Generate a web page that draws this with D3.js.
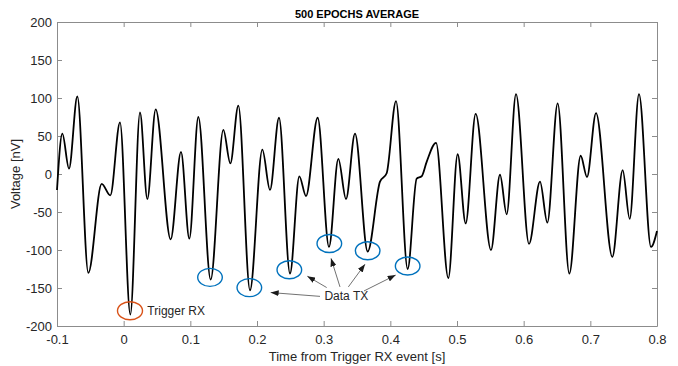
<!DOCTYPE html>
<html>
<head>
<meta charset="utf-8">
<script src="https://cdn.jsdelivr.net/npm/d3@7"></script>
<style>
  html, body { margin: 0; padding: 0; background: #fff; }
  svg { display: block; font-family: "Liberation Sans", Arial, sans-serif; }
</style>
</head>
<body>
<div id="chart"></div>
<script>
// waveform (local extrema + a few shoulder points)
const times = [-0.1, -0.092, -0.082, -0.0695, -0.053, -0.033, -0.020, -0.0055, 0.010, 0.0245,
  0.0355, 0.048, 0.0705, 0.086, 0.0985, 0.112, 0.1305, 0.1495, 0.160, 0.172,
  0.1895, 0.208, 0.2195, 0.233, 0.2495, 0.2635, 0.2735, 0.291, 0.308, 0.322,
  0.3335, 0.347, 0.366, 0.3845, 0.3945, 0.4085, 0.426, 0.4395, 0.447, 0.4545,
  0.4685, 0.487, 0.501, 0.513, 0.528, 0.551, 0.5645, 0.5745, 0.5885, 0.608,
  0.6245, 0.6355, 0.651, 0.6685, 0.6855, 0.695, 0.7085, 0.733, 0.7485, 0.759,
  0.773, 0.791, 0.8];
const voltage = [-21, 53, 7, 102, -130, -13, -28, 68, -185, 81,
  -33, 85, -86, 29, -85, 75, -139, 58, 14, 90,
  -153, 32, -21, 74, -131, -3, -29, 74, -96, 20,
  -33, 53, -102, -10, 1, 96, -125, -6, -3, 16,
  41, -137, 26, -65, 79, -100, -1, -53, 105, -92,
  -10, -64, 93, -131, 24, -4, 80, -109, 5, -59,
  105, -96, -75];

const xTicks = [-0.1, 0, 0.1, 0.2, 0.3, 0.4, 0.5, 0.6, 0.7, 0.8];
const yTicks = [-200, -150, -100, -50, 0, 50, 100, 150, 200];

// annotations (data units)
const triggerMark = { t: 0.0095, v: -180 };
const triggerLabel = { t: 0.0355, v: -180, text: 'Trigger RX' };
const txMarks = [
  { t: 0.1295, v: -136 },
  { t: 0.1885, v: -149.5 },
  { t: 0.2485, v: -126 },
  { t: 0.3085, v: -91.5 },
  { t: 0.366, v: -101 },
  { t: 0.426, v: -121 }
];
const txLabel = { t: 0.334, v: -160.5, text: 'Data TX' };
const txArrows = [
  { t0: 0.2945, v0: -161, t1: 0.2205, v1: -156 },
  { t0: 0.3045, v0: -149.4, t1: 0.2755, v1: -134.5 },
  { t0: 0.3245, v0: -148.6, t1: 0.311, v1: -111 },
  { t0: 0.337, v0: -148.6, t1: 0.362, v1: -118.7 },
  { t0: 0.3605, v0: -153.9, t1: 0.408, v1: -133 }
];

const W = 678, H = 366;
const margin = { top: 22, right: 21, bottom: 40, left: 57 };
const width = W - margin.left - margin.right;
const height = H - margin.top - margin.bottom;

const svg = d3.select('#chart').append('svg')
  .attr('width', W).attr('height', H);

const g = svg.append('g')
  .attr('transform', `translate(${margin.left},${margin.top})`);

const x = d3.scaleLinear().domain([-0.1, 0.8]).range([0, width]);
const y = d3.scaleLinear().domain([-200, 200]).range([height, 0]);

const axisColor = '#8c8c8c';
const textColor = '#262626';
const tickLen = 5;

// axes (plain hyphen minus like the original)
const xAxis = g.append('g')
  .attr('transform', `translate(0,${height})`)
  .call(d3.axisBottom(x).tickValues(xTicks).tickSizeInner(-tickLen).tickSizeOuter(0).tickPadding(9)
    .tickFormat(d => String(+d.toFixed(1))));
const yAxis = g.append('g')
  .call(d3.axisLeft(y).tickValues(yTicks).tickSizeInner(-tickLen).tickSizeOuter(0).tickPadding(5)
    .tickFormat(d => String(d)));
const xTop = g.append('g')
  .call(d3.axisTop(x).tickValues(xTicks).tickSizeInner(-tickLen).tickSizeOuter(0).tickFormat(''));
const yRight = g.append('g')
  .attr('transform', `translate(${width},0)`)
  .call(d3.axisRight(y).tickValues(yTicks).tickSizeInner(-tickLen).tickSizeOuter(0).tickFormat(''));

[xAxis, yAxis, xTop, yRight].forEach(a => {
  a.select('.domain').attr('stroke', axisColor);
  a.selectAll('.tick line').attr('stroke', axisColor);
  a.selectAll('.tick text').attr('fill', textColor).style('font-size', '13px');
});

// waveform
const line = d3.line()
  .x((d, i) => x(times[i]))
  .y(d => y(d))
  .curve(d3.curveMonotoneX);

g.append('path')
  .datum(voltage)
  .attr('fill', 'none')
  .attr('stroke', '#000')
  .attr('stroke-width', 1.8)
  .attr('stroke-linejoin', 'round')
  .attr('d', line);

// annotations
svg.append('defs').append('marker')
  .attr('id', 'arrow')
  .attr('markerUnits', 'userSpaceOnUse')
  .attr('markerWidth', 8).attr('markerHeight', 6)
  .attr('refX', 8).attr('refY', 3)
  .attr('orient', 'auto')
  .append('path')
  .attr('d', 'M0,0 L8,3 L0,6 Z')
  .attr('fill', '#1a1a1a');

g.append('ellipse')
  .attr('cx', x(triggerMark.t)).attr('cy', y(triggerMark.v))
  .attr('rx', 12.5).attr('ry', 9)
  .attr('fill', 'none').attr('stroke', '#d95319').attr('stroke-width', 1.4);

g.selectAll('.tx')
  .data(txMarks)
  .join('ellipse')
  .attr('class', 'tx')
  .attr('cx', d => x(d.t)).attr('cy', d => y(d.v))
  .attr('rx', 12.3).attr('ry', 9)
  .attr('fill', 'none').attr('stroke', '#0072bd').attr('stroke-width', 1.4);

g.selectAll('.arr')
  .data(txArrows)
  .join('line')
  .attr('class', 'arr')
  .attr('x1', d => x(d.t0)).attr('y1', d => y(d.v0))
  .attr('x2', d => x(d.t1)).attr('y2', d => y(d.v1))
  .attr('stroke', '#333').attr('stroke-width', 0.7)
  .attr('marker-end', 'url(#arrow)');

g.append('text')
  .attr('x', x(triggerLabel.t)).attr('y', y(triggerLabel.v))
  .attr('dy', '0.35em')
  .attr('fill', textColor)
  .style('font-size', '12px')
  .text(triggerLabel.text);

g.append('text')
  .attr('x', x(txLabel.t)).attr('y', y(txLabel.v))
  .attr('dy', '0.35em')
  .attr('text-anchor', 'middle')
  .attr('fill', textColor)
  .style('font-size', '12px')
  .text(txLabel.text);

// title and axis labels
svg.append('text')
  .attr('x', margin.left + width / 2).attr('y', 18)
  .attr('text-anchor', 'middle')
  .attr('fill', '#000')
  .style('font-size', '11px').style('font-weight', 'bold')
  .text('500 EPOCHS AVERAGE');

svg.append('text')
  .attr('x', margin.left + width / 2).attr('y', 361)
  .attr('text-anchor', 'middle')
  .attr('fill', textColor)
  .style('font-size', '13px')
  .text('Time from Trigger RX event [s]');

svg.append('text')
  .attr('transform', `translate(20,${margin.top + height / 2}) rotate(-90)`)
  .attr('text-anchor', 'middle')
  .attr('fill', textColor)
  .style('font-size', '13px')
  .text('Voltage [nV]');
</script>
</body>
</html>
